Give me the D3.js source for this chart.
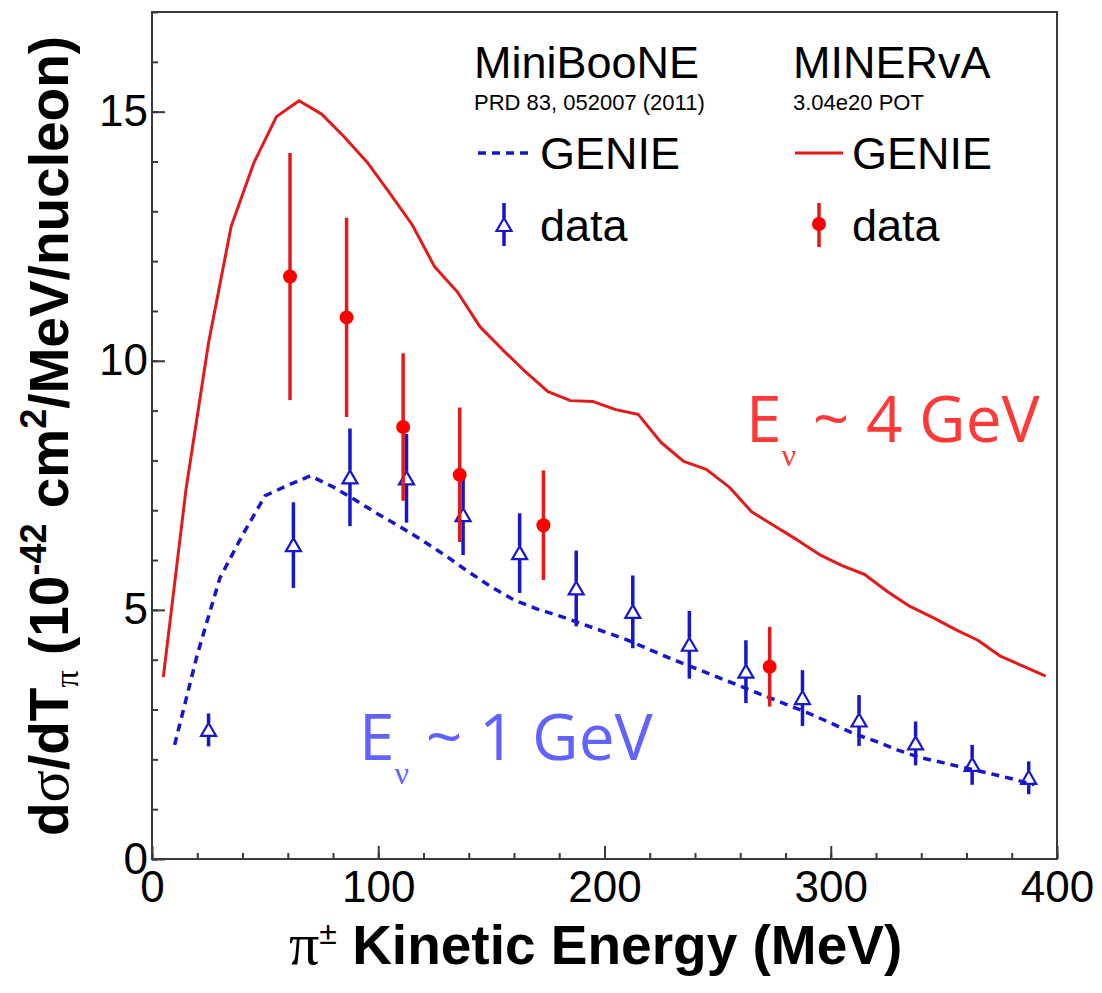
<!DOCTYPE html>
<html>
<head>
<meta charset="utf-8">
<script src="https://cdn.jsdelivr.net/npm/d3@7/dist/d3.min.js"></script>
<style>
  html, body { margin: 0; padding: 0; background: #fff; }
  svg { display: block; }
</style>
</head>
<body>
<svg id="chart" width="1102" height="993"></svg>
<script>
// GENIE prediction, MINERvA flux (Ev ~ 4 GeV), at 10 MeV bin centres
const genieMinervaT = [5,15,25,35,45,55,65,75,85,95,105,115,125,135,145,155,165,175,185,195,
  205,215,225,235,245,255,265,275,285,295,305,315,325,335,345,355,365,375,385,395];
const genieMinervaXS = [3.65,7.41,10.36,12.7,13.97,14.9,15.22,14.95,14.49,13.99,13.37,12.73,11.88,11.38,10.68,10.22,9.78,9.38,9.2,9.18,
  9.02,8.92,8.36,7.98,7.82,7.47,6.97,6.69,6.41,6.11,5.89,5.71,5.37,5.07,4.85,4.61,4.39,4.07,3.87,3.67];

// GENIE prediction, MiniBooNE flux (Ev ~ 1 GeV)
const genieMiniBooNET = [10,20,30,40,50,60,70,80,90,100,110,120,130,140,150,160,170,180,190,200,
  210,220,230,240,250,260,270,280,290,300,310,320,330,340,350,360,370,380,390];
const genieMiniBooNEXS = [2.29,4.1,5.64,6.5,7.29,7.5,7.69,7.47,7.2,6.92,6.66,6.38,6.08,5.76,5.46,5.2,5.02,4.88,4.72,4.56,
  4.4,4.2,4.01,3.83,3.65,3.47,3.29,3.11,2.93,2.73,2.52,2.36,2.18,2.03,1.93,1.82,1.72,1.61,1.49];

// MiniBooNE data, PRD 83, 052007 (2011)
const mbT   = [25,62.5,87.5,112.5,137.5,162.5,187.5,212.5,237.5,262.5,287.5,312.5,337.5,362.5,387.5];
const mbXS  = [2.59,6.30,7.66,7.64,6.9,6.14,5.43,4.96,4.30,3.76,3.23,2.78,2.32,1.89,1.63];
const mbErr = [0.33,0.86,0.98,0.89,0.8,0.8,0.76,0.73,0.68,0.63,0.56,0.51,0.44,0.40,0.33];

// MINERvA data, 3.04e20 POT
const mnT   = [61,86,111,136,173,273];
const mnXS  = [11.69,10.87,8.67,7.71,6.70,3.86];
const mnErr = [2.48,2.0,1.48,1.35,1.1,0.8];

// Axis ticks
const xMajorTicks = [0,100,200,300,400];
const xMinorTicks = d3.range(0, 401, 20);
const yMajorTicks = [0,5,10,15];
const yMinorTicks = d3.range(0, 18, 1);

const svg = d3.select("#chart");
const plotLeft = 152, plotRight = 1057, plotTop = 12, plotBottom = 859;

const x = d3.scaleLinear().domain([0, 400]).range([plotLeft, plotRight]);
const y = d3.scaleLinear().domain([0, 17]).range([plotBottom, plotTop]);

const RED = "#e41a1a", REDDOT = "#ff0000";
const BLUE = "#1616cc";
const AXIS = "#3a3a3a";
const SANS = "'Liberation Sans', Arial, Helvetica, sans-serif";
const SERIF = "'Liberation Serif', 'Times New Roman', serif";
const ANNOT = "'Open Sans', 'Noto Sans', sans-serif";

// ---- axes (ticks point inward) ----
const gx = svg.append("g").attr("transform", `translate(0,${plotBottom})`);
gx.call(d3.axisBottom(x).tickValues(xMinorTicks).tickSizeInner(-6).tickSizeOuter(0).tickFormat(""));
const gxMaj = svg.append("g").attr("transform", `translate(0,${plotBottom})`);
gxMaj.call(d3.axisBottom(x).tickValues(xMajorTicks).tickSizeInner(-13).tickSizeOuter(0).tickPadding(12).tickFormat(d3.format("d")));

const gy = svg.append("g").attr("transform", `translate(${plotLeft},0)`);
gy.call(d3.axisLeft(y).tickValues(yMinorTicks).tickSizeInner(-6).tickSizeOuter(0).tickFormat(""));
const gyMaj = svg.append("g").attr("transform", `translate(${plotLeft},0)`);
gyMaj.call(d3.axisLeft(y).tickValues(yMajorTicks).tickSizeInner(-13).tickSizeOuter(0).tickPadding(4).tickFormat(d3.format("d")));

svg.selectAll(".domain").remove();
svg.selectAll(".tick line").attr("stroke", AXIS).attr("stroke-width", 2);
svg.selectAll(".tick text").attr("font-family", SANS).attr("font-size", 44).attr("fill", "#000");

// frame
svg.append("rect")
  .attr("x", plotLeft).attr("y", plotTop)
  .attr("width", plotRight - plotLeft).attr("height", plotBottom - plotTop)
  .attr("fill", "none").attr("stroke", AXIS).attr("stroke-width", 2);

// ---- GENIE curves ----
const line = d3.line().x(d => x(d[0])).y(d => y(d[1]));

svg.append("path")
  .datum(d3.zip(genieMiniBooNET, genieMiniBooNEXS))
  .attr("d", line)
  .attr("fill", "none").attr("stroke", BLUE).attr("stroke-width", 3.5)
  .attr("stroke-dasharray", "8,6");

svg.append("path")
  .datum(d3.zip(genieMinervaT, genieMinervaXS))
  .attr("d", line)
  .attr("fill", "none").attr("stroke", RED).attr("stroke-width", 3)
  .attr("stroke-linejoin", "round");

// ---- MiniBooNE data: open triangles with error bars ----
const triUp = 7, triDown = 6, triHalf = 7.5;
function triangle(cx, cy) {
  return `M${cx},${cy - triUp} L${cx + triHalf},${cy + triDown} L${cx - triHalf},${cy + triDown} Z`;
}
const mb = d3.range(mbT.length).map(i => ({t: mbT[i], v: mbXS[i], e: mbErr[i]}));
const gmb = svg.append("g");
mb.forEach(d => {
  const cx = x(d.t), cy = y(d.v), yt = y(d.v + d.e), yb = y(d.v - d.e);
  if (yt < cy - triUp) gmb.append("line").attr("x1", cx).attr("x2", cx).attr("y1", yt).attr("y2", cy - triUp)
    .attr("stroke", BLUE).attr("stroke-width", 3.5);
  if (yb > cy + triDown) gmb.append("line").attr("x1", cx).attr("x2", cx).attr("y1", cy + triDown).attr("y2", yb)
    .attr("stroke", BLUE).attr("stroke-width", 3.5);
  gmb.append("path").attr("d", triangle(cx, cy))
    .attr("fill", "none").attr("stroke", BLUE).attr("stroke-width", 2.2);
});

// ---- MINERvA data: filled circles with error bars ----
const mn = d3.range(mnT.length).map(i => ({t: mnT[i], v: mnXS[i], e: mnErr[i]}));
const gmn = svg.append("g");
gmn.selectAll("line").data(mn).join("line")
  .attr("x1", d => x(d.t)).attr("x2", d => x(d.t))
  .attr("y1", d => y(d.v + d.e)).attr("y2", d => y(d.v - d.e))
  .attr("stroke", RED).attr("stroke-width", 3.5);
gmn.selectAll("circle").data(mn).join("circle")
  .attr("cx", d => x(d.t)).attr("cy", d => y(d.v)).attr("r", 7)
  .attr("fill", REDDOT);

// ---- legend ----
const lg = svg.append("g").attr("font-family", SANS).attr("fill", "#000");
lg.append("text").attr("x", 474).attr("y", 78).attr("font-size", 45).text("MiniBooNE");
lg.append("text").attr("x", 474).attr("y", 110).attr("font-size", 22).text("PRD 83, 052007 (2011)");
lg.append("text").attr("x", 793).attr("y", 78).attr("font-size", 45).text("MINERvA");
lg.append("text").attr("x", 793).attr("y", 110).attr("font-size", 22).text("3.04e20 POT");

lg.append("line").attr("x1", 478).attr("x2", 532).attr("y1", 153).attr("y2", 153)
  .attr("stroke", BLUE).attr("stroke-width", 3.5).attr("stroke-dasharray", "8,6");
lg.append("text").attr("x", 540).attr("y", 169).attr("font-size", 45).text("GENIE");
lg.append("line").attr("x1", 795).attr("x2", 843).attr("y1", 153).attr("y2", 153)
  .attr("stroke", RED).attr("stroke-width", 3);
lg.append("text").attr("x", 852).attr("y", 169).attr("font-size", 45).text("GENIE");

// legend data markers
lg.append("line").attr("x1", 504).attr("x2", 504).attr("y1", 203).attr("y2", 218)
  .attr("stroke", BLUE).attr("stroke-width", 3.5);
lg.append("line").attr("x1", 504).attr("x2", 504).attr("y1", 231).attr("y2", 246)
  .attr("stroke", BLUE).attr("stroke-width", 3.5);
lg.append("path").attr("d", triangle(504, 225)).attr("fill", "none").attr("stroke", BLUE).attr("stroke-width", 2.2);
lg.append("text").attr("x", 540).attr("y", 241).attr("font-size", 45).text("data");

lg.append("line").attr("x1", 819).attr("x2", 819).attr("y1", 203).attr("y2", 247)
  .attr("stroke", RED).attr("stroke-width", 3.5);
lg.append("circle").attr("cx", 819).attr("cy", 224).attr("r", 7).attr("fill", REDDOT);
lg.append("text").attr("x", 852).attr("y", 241).attr("font-size", 45).text("data");

// ---- beam energy annotations ----
function energyLabel(xp, yp, color, rest) {
  const t = svg.append("text").attr("x", xp).attr("y", yp)
    .attr("font-family", ANNOT).attr("font-size", 64).attr("fill", color);
  t.append("tspan").text("E");
  t.append("tspan").attr("font-family", SERIF).attr("font-size", 32).attr("dy", 24).text("\u03bd");
  t.append("tspan").attr("dy", -24).text(rest);
}
energyLabel(746, 442, "#ff3838", " ~ 4 GeV");
energyLabel(359, 760, "#6262ff", " ~ 1 GeV");

// ---- axis titles ----
const xt = svg.append("text").attr("x", 289).attr("y", 964).attr("fill", "#000").attr("font-family", SANS);
xt.append("tspan").attr("font-family", SERIF).attr("font-size", 60).text("\u03c0");
xt.append("tspan").attr("font-size", 32).attr("dy", -20).text("\u00b1");
xt.append("tspan").attr("font-size", 55).attr("font-weight", "bold").attr("dy", 20).text(" Kinetic Energy (MeV)");

const ytl = svg.append("text").attr("transform", "translate(68,836) rotate(-90)")
  .attr("fill", "#000").attr("font-family", SANS).attr("font-size", 55).attr("font-weight", "bold");
ytl.append("tspan").text("d");
ytl.append("tspan").attr("font-family", SERIF).attr("font-weight", "normal").attr("font-size", 60).text("\u03c3");
ytl.append("tspan").text("/dT");
ytl.append("tspan").attr("font-family", SERIF).attr("font-weight", "normal").attr("font-size", 34).attr("dy", 10).text("\u03c0");
ytl.append("tspan").attr("dy", -10).text("  (10");
ytl.append("tspan").attr("font-size", 36).attr("dy", -22).text("-42");
ytl.append("tspan").attr("dy", 22).text(" cm");
ytl.append("tspan").attr("font-size", 36).attr("dy", -22).text("2");
ytl.append("tspan").attr("dy", 22).text("/MeV/nucleon)");
</script>
</body>
</html>
